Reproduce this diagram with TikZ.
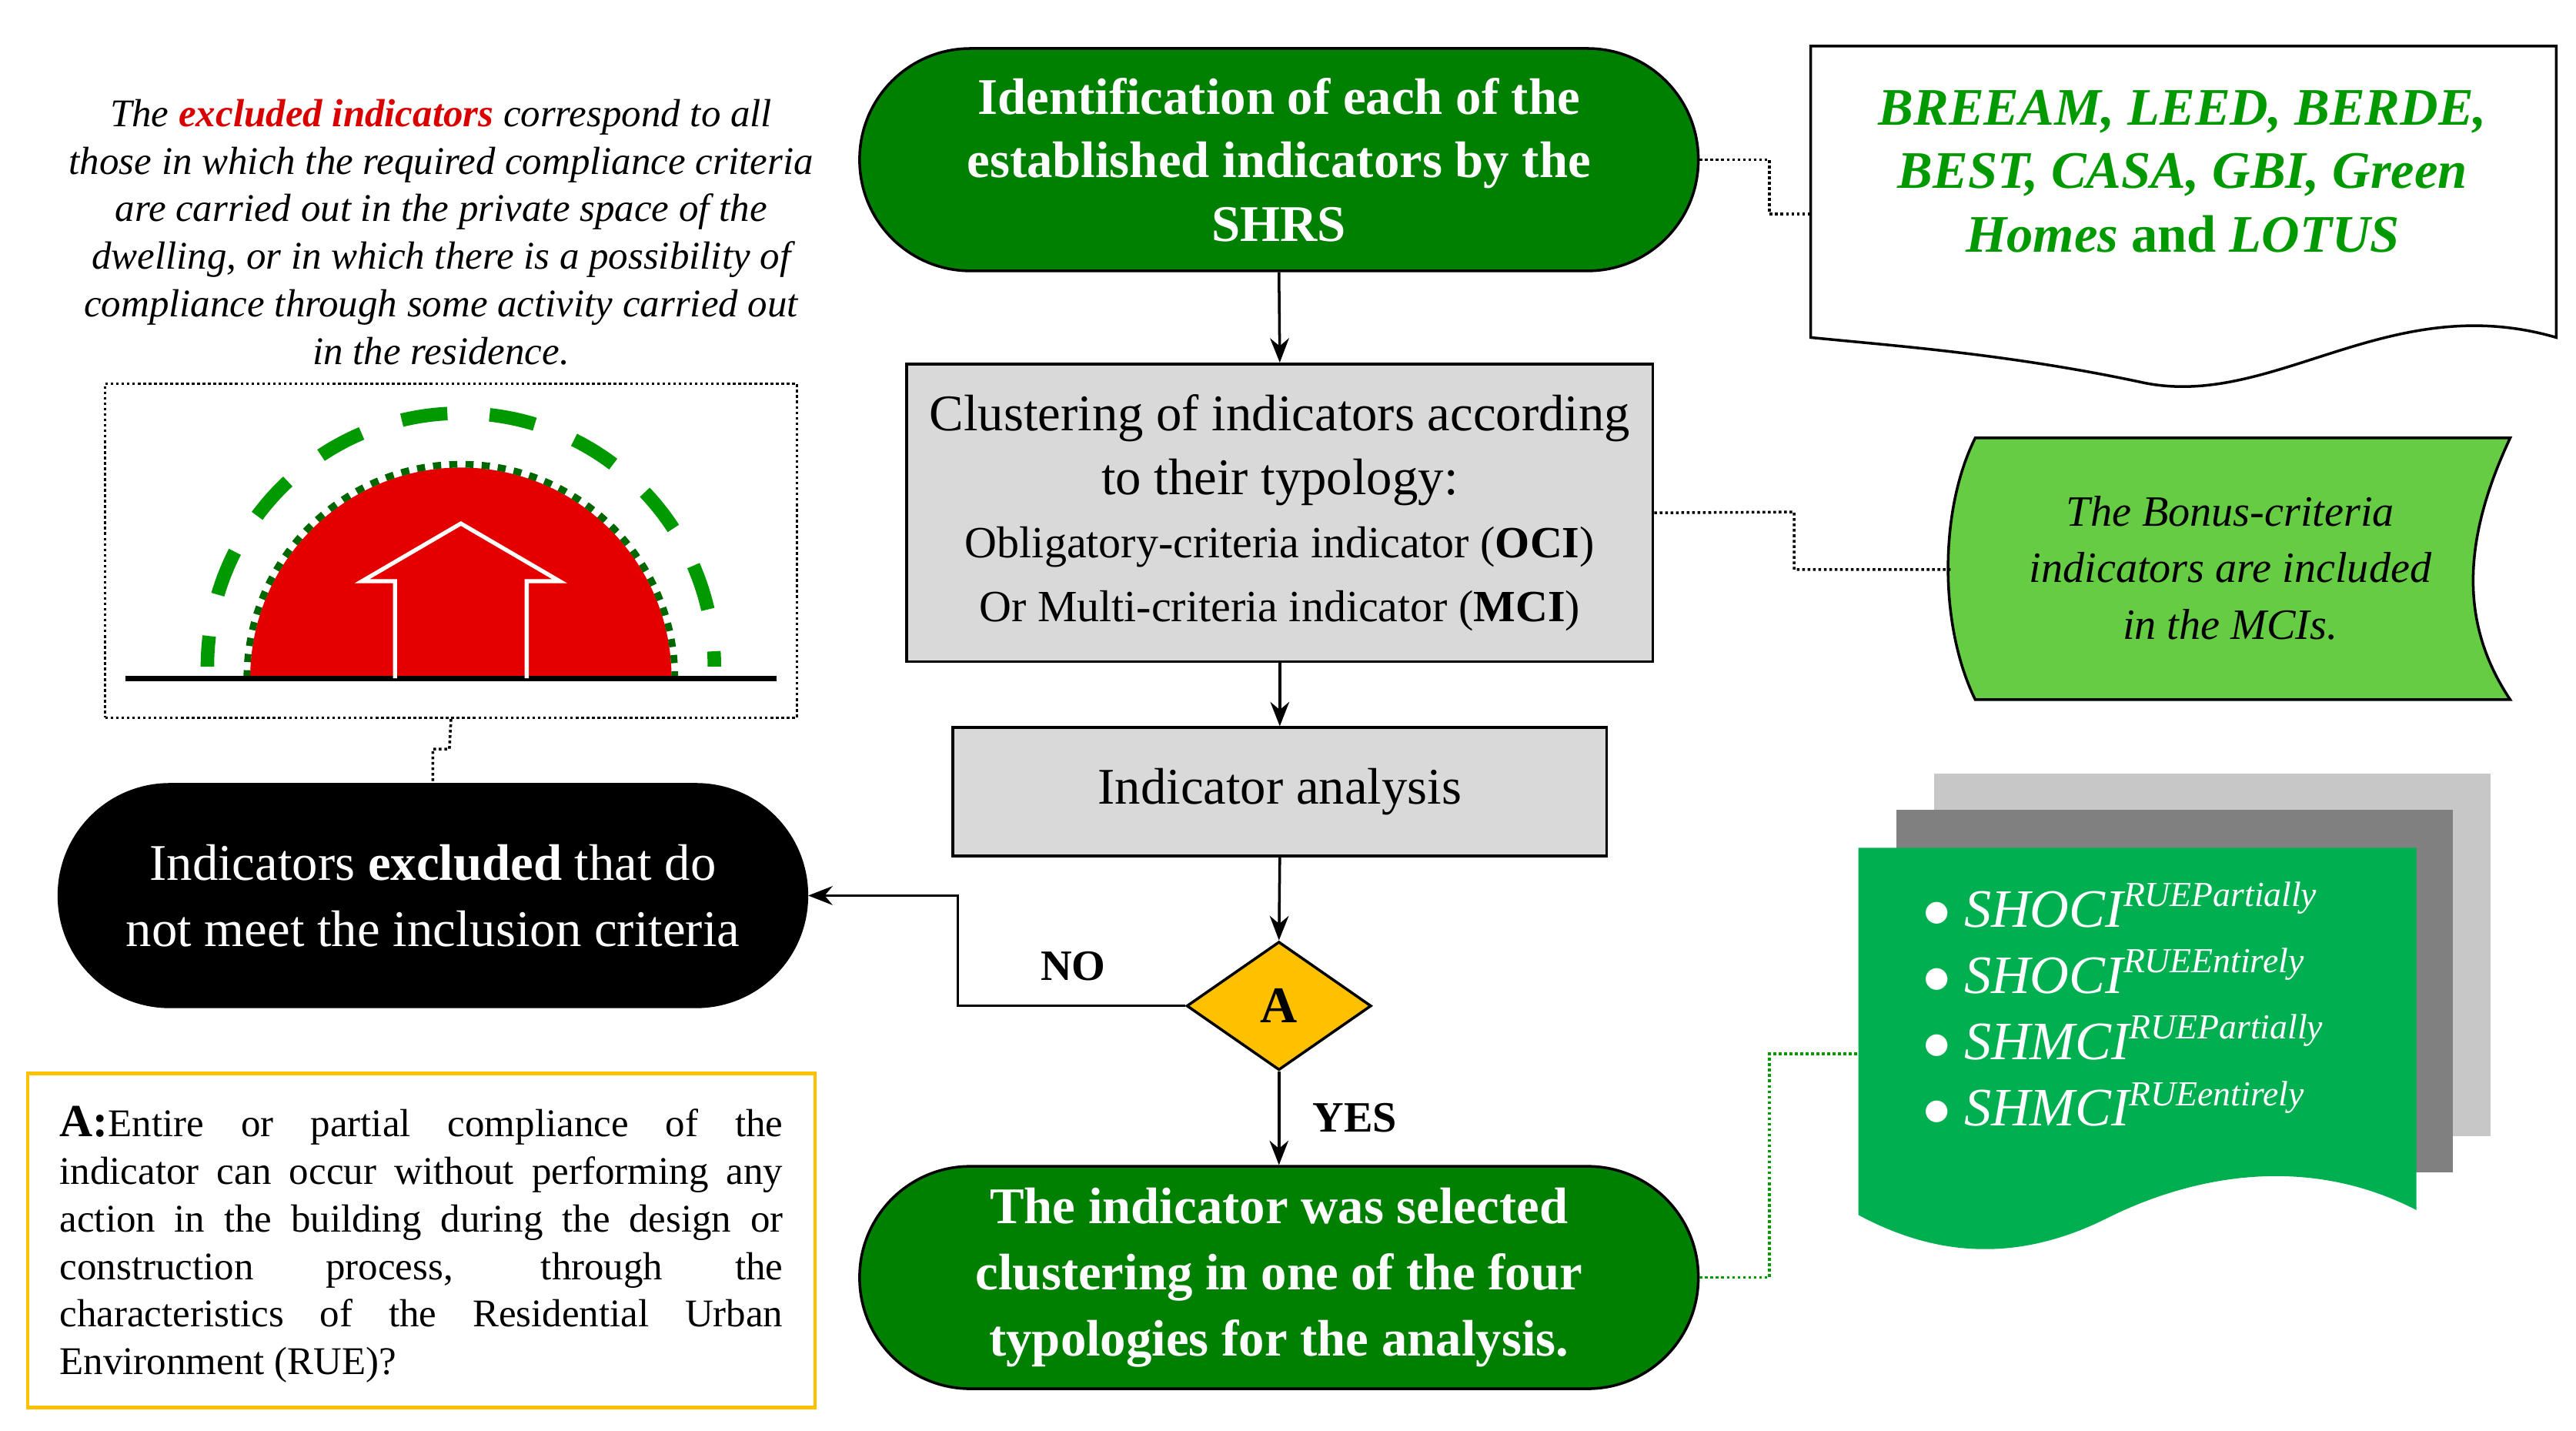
\documentclass[tikz,border=0pt]{standalone}
\usepackage{fontspec}
\setmainfont{Liberation Serif}
\usetikzlibrary{shapes.geometric,arrows.meta}
\definecolor{dgreen}{RGB}{0,128,0}
\definecolor{lgreen}{RGB}{102,204,68}
\definecolor{bgreen}{RGB}{0,176,80}
\definecolor{gold}{RGB}{255,192,0}
\definecolor{lgray}{RGB}{217,217,217}
\definecolor{docgreen}{RGB}{0,153,0}
\begin{document}
\begin{tikzpicture}[x=0.0214cm,y=-0.0214cm,
 stad/.style={draw=black,line width=1pt,rounded corners=1.44cm,minimum width=10.9cm,minimum height=2.89cm,align=center,inner sep=2pt},
 gbox/.style={draw=black,line width=1pt,fill=lgray,align=center},
 arr/.style={-{Stealth[length=9pt,width=7pt]},line width=1pt},
 dot/.style={densely dotted,line width=1pt}]
\useasboundingbox (0,0) rectangle (1565,869);
% top stadium
\node[stad,fill=dgreen,text=white,font=\fontsize{19}{23.5}\selectfont\bfseries] (top) at (777,97) {Identification of each of the\\established indicators by the\\SHRS};
% document
\draw[line width=1pt,fill=white] (1100,28) -- (1553,28) -- (1553,205) .. controls (1450,175) and (1380,250) .. (1300,232) .. controls (1220,215) and (1150,210) .. (1100,205) -- cycle;
\coordinate (docL) at (1100,130);
\node[text=docgreen,font=\fontsize{19.5}{23.5}\selectfont\bfseries\itshape,align=center] (doct) at (1326,104) {BREEAM, LEED, BERDE,\\BEST, CASA, GBI, Green\\Homes {\upshape and} LOTUS};
\draw[dot] (top.east) -- (1075,97) -- (1075,130) -- (docL);
% gray box
\node[gbox,minimum width=9.7cm,minimum height=3.87cm,font=\fontsize{19}{23.5}\selectfont] (clus) at (777.5,311.5) {Clustering of indicators according\\to their typology:\\{\fontsize{16.5}{23}\selectfont Obligatory-criteria indicator (\textbf{OCI})}\\{\fontsize{16.5}{23}\selectfont Or Multi-criteria indicator (\textbf{MCI})}};
% tape
\draw[line width=1pt,fill=lgreen] (1200,266) -- (1525,266) .. controls (1495,330) and (1495,380) .. (1525,425) -- (1200,425) .. controls (1178,380) and (1178,310) .. (1200,266) -- cycle;
\coordinate (tapeL) at (1185,346);
\node[font=\fontsize{16}{21}\selectfont\itshape,align=center] (tapet) at (1355,345) {The Bonus-criteria\\indicators are included\\in the MCIs.};
\draw[dot] (clus.east) -- (1090,311) -- (1090,346) -- (tapeL);
% analysis
\node[gbox,minimum width=8.5cm,minimum height=1.67cm,font=\fontsize{19}{23}\selectfont] (ana) at (777.5,481) {Indicator analysis};
\draw[arr] (top.south) -- (clus.north);
\draw[arr] (clus.south) -- (ana.north);
% diamond
\node[diamond,draw=black,line width=1pt,fill=gold,minimum width=2.4cm,minimum height=1.67cm,inner sep=0pt,font=\fontsize{19}{20}\selectfont\bfseries] (A) at (777,611) {A};
\draw[arr] (ana.south) -- (A.north);
% bottom stadium
\node[stad,fill=dgreen,text=white,font=\fontsize{19}{24.5}\selectfont\bfseries] (bot) at (777,776) {The indicator was selected\\clustering in one of the four\\typologies for the analysis.};
\draw[arr] (A.south) -- (bot.north);
\node[font=\fontsize{16}{18}\selectfont\bfseries] (yes) at (823,679) {YES};
% black stadium
\node[stad,fill=black,text=white,minimum width=9.72cm,font=\fontsize{19}{24.5}\selectfont] (exc) at (263,544) {Indicators \textbf{excluded} that do\\not meet the inclusion criteria};
\draw[arr] (A.west) -- (582,611) -- (582,544) -- (exc.east);
\node[font=\fontsize{16}{18}\selectfont\bfseries] (no) at (652,587) {NO};
% left text
\node[font=\fontsize{14.5}{17.6}\selectfont\itshape,align=center] (ltxt) at (268,141) {The {\color{red!85!black}\bfseries excluded indicators} correspond to all\\those in which the required compliance criteria\\are carried out in the private space of the\\dwelling, or in which there is a possibility of\\compliance through some activity carried out\\in the residence.};
% dotted picture box
\node[draw,dot,minimum width=8.99cm,minimum height=4.34cm] (pic) at (274,334.5) {};
\draw[dot] (pic.south) -- (273,455) -- (263,455) -- (exc.north);
\fill[red!90!black] (152,412) arc[start angle=180,end angle=360,radius=128];
\draw[dgreen!80!black,line width=2.5pt,dash pattern=on 3pt off 3pt] (150,412) arc[start angle=180,end angle=360,radius=130];
\draw[green!60!black,line width=5pt,dash pattern=on 0.6cm off 0.55cm,dash phase=0.2cm] (126,405) arc[start angle=180,end angle=360,radius=154];
\draw[line width=2pt] (76,412) -- (472,412);
\draw[white,line width=1.5pt] (240,412) -- (240,353) -- (220,353) -- (280,318) -- (340,353) -- (320,353) -- (320,412);
% yellow box
\node[draw=gold,line width=1.2pt,minimum width=10.23cm,minimum height=4.34cm] (ybox) at (256,753.5) {};
\node[text width=9.4cm,align=justify,font=\fontsize{14.5}{17.6}\selectfont] (ytxt) at (256,756) {{\fontsize{17}{17}\selectfont\textbf{A:}}Entire or partial compliance of the\linebreak indicator can occur without performing any\linebreak action in the building during the design or\linebreak construction process, through the\linebreak characteristics of the Residential Urban\linebreak Environment (RUE)?};
% stacked docs
\fill[lgray!80!gray] (1175,470) rectangle (1513,690);
\fill[gray] (1152,492) rectangle (1490,712);
\fill[bgreen] (1129,515) -- (1468,515) -- (1468,735) .. controls (1400,700) and (1330,715) .. (1280,740) .. controls (1220,770) and (1170,760) .. (1129,738) -- cycle;
\coordinate (stkL) at (1129,640);
\node[text=white,font=\fontsize{20}{24.5}\selectfont\itshape,align=left] (stkt) at (1290,610) {$\bullet$ SHOCI\textsuperscript{\fontsize{13}{13}\selectfont RUEPartially}\\$\bullet$ SHOCI\textsuperscript{\fontsize{13}{13}\selectfont RUEEntirely}\\$\bullet$ SHMCI\textsuperscript{\fontsize{13}{13}\selectfont RUEPartially}\\$\bullet$ SHMCI\textsuperscript{\fontsize{13}{13}\selectfont RUEentirely}};
\draw[dot,green!60!black] (bot.east) -- (1075,776) -- (1075,640) -- (stkL);
\end{tikzpicture}
\end{document}
